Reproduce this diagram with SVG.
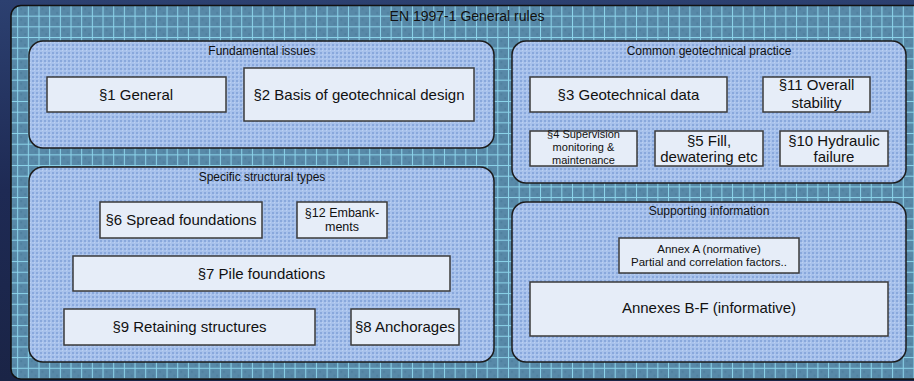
<svg xmlns="http://www.w3.org/2000/svg" width="914" height="381" viewBox="0 0 914 381">
  <defs>
    <linearGradient id="bg" x1="0" y1="0" x2="0" y2="1">
      <stop offset="0" stop-color="#2c4070"/>
      <stop offset="0.5" stop-color="#1e2a54"/>
      <stop offset="1" stop-color="#1a2446"/>
    </linearGradient>
    <!-- grid paper behind the groups -->
    <pattern id="grid" x="6.5" y="5" width="10.67" height="10.67" patternUnits="userSpaceOnUse">
      <rect width="10.67" height="10.67" fill="#5889a8"/>
      <rect x="3" y="3" width="2" height="2" fill="#4f7f9e"/>
      <rect x="7" y="7" width="2" height="2" fill="#4f7f9e"/>
      <rect x="0" y="0" width="10.67" height="1" fill="#8cd4ea"/>
      <rect x="0" y="0" width="1" height="10.67" fill="#8cd4ea"/>
    </pattern>
    <!-- dotted fill of the group panels -->
    <pattern id="dots" width="4" height="4" patternUnits="userSpaceOnUse">
      <rect width="4" height="4" fill="#a8c2ec"/>
      <rect x="0" y="0" width="2" height="2" fill="#89a8dc"/>
      <rect x="2" y="2" width="1" height="1" fill="#bcd0f2"/>
    </pattern>
  </defs>
  <style>
    .grp { fill: url(#dots); stroke: #1c1c1c; stroke-width: 1.5; }
    .box { fill: #e6edf8; stroke: #3a3a3a; stroke-width: 1.5; }
    text { font-family: "Liberation Sans", Arial, sans-serif; fill: #111; text-anchor: middle; }
    .gl { font-size: 12px; }
    .bt { font-size: 15px; }
    .sm { font-size: 11px; }
  </style>

  <rect width="914" height="381" fill="url(#bg)"/>

  <g id="frame">
    <rect x="11" y="5.5" width="920" height="373.5" rx="10" fill="url(#grid)" stroke="#111" stroke-width="1.5"/>
    <text x="467" y="21" style="font-size:14px">EN 1997-1 General rules</text>
  </g>

  <g id="fundamental">
    <rect class="grp" x="29" y="41" width="465" height="107" rx="14"/>
    <text class="gl" x="262" y="55">Fundamental issues</text>
  </g>
  <g id="common">
    <rect class="grp" x="512" y="41" width="394" height="142" rx="14"/>
    <text class="gl" x="709" y="55">Common geotechnical practice</text>
  </g>
  <g id="specific">
    <rect class="grp" x="29" y="167" width="465" height="195" rx="14"/>
    <text class="gl" x="262" y="181">Specific structural types</text>
  </g>
  <g id="supporting">
    <rect class="grp" x="512" y="202" width="394" height="160" rx="14"/>
    <text class="gl" x="709" y="215">Supporting information</text>
  </g>

  <g id="s1">
    <rect class="box" x="47" y="77" width="179" height="35"/>
    <text class="bt" x="136" y="99.5">§1 General</text>
  </g>
  <g id="s2">
    <rect class="box" x="244" y="68" width="230" height="53"/>
    <text class="bt" x="359" y="99.5">§2 Basis of geotechnical design</text>
  </g>
  <g id="s3">
    <rect class="box" x="530" y="77" width="197" height="35"/>
    <text class="bt" x="628.5" y="99.5">§3 Geotechnical data</text>
  </g>
  <g id="s11">
    <rect class="box" x="763" y="77" width="107" height="35"/>
    <text class="bt" x="816.5" y="90">§11 Overall</text>
    <text class="bt" x="816.5" y="108">stability</text>
  </g>
  <g id="s4">
    <rect class="box" x="530" y="131" width="107" height="35"/>
    <text class="sm" x="583.5" y="137.5">§4 Supervision</text>
    <text class="sm" x="583.5" y="150.5">monitoring &amp;</text>
    <text class="sm" x="583.5" y="163.5">maintenance</text>
  </g>
  <g id="s5">
    <rect class="box" x="655" y="131" width="108" height="35"/>
    <text class="bt" x="709" y="145.5">§5 Fill,</text>
    <text class="bt" x="709" y="161.5">dewatering etc</text>
  </g>
  <g id="s10">
    <rect class="box" x="780" y="131" width="108" height="35"/>
    <text class="bt" x="834" y="145.5">§10 Hydraulic</text>
    <text class="bt" x="834" y="161.5">failure</text>
  </g>

  <g id="s6">
    <rect class="box" x="100" y="202" width="162" height="36"/>
    <text class="bt" x="181" y="224.5">§6 Spread foundations</text>
  </g>
  <g id="s12">
    <rect class="box" x="297" y="202" width="90" height="36"/>
    <text x="342" y="216.5" style="font-size:12.5px">§12 Embank-</text>
    <text x="342" y="230.5" style="font-size:12.5px">ments</text>
  </g>
  <g id="s7">
    <rect class="box" x="73" y="256" width="377" height="35"/>
    <text class="bt" x="261.5" y="278.5">§7 Pile foundations</text>
  </g>
  <g id="s9">
    <rect class="box" x="64" y="309" width="251" height="36"/>
    <text class="bt" x="189.5" y="332">§9 Retaining structures</text>
  </g>
  <g id="s8">
    <rect class="box" x="351" y="309" width="108" height="36"/>
    <text class="bt" x="405" y="332">§8 Anchorages</text>
  </g>

  <g id="annexA">
    <rect class="box" x="619" y="238" width="180" height="35"/>
    <text x="709" y="252.5" style="font-size:11.5px">Annex A (normative)</text>
    <text x="709" y="265.5" style="font-size:11.5px">Partial and correlation factors..</text>
  </g>
  <g id="annexBF">
    <rect class="box" x="530" y="282" width="358" height="54"/>
    <text class="bt" x="709" y="313">Annexes B-F (informative)</text>
  </g>

  <g id="connectors"/>
</svg>
